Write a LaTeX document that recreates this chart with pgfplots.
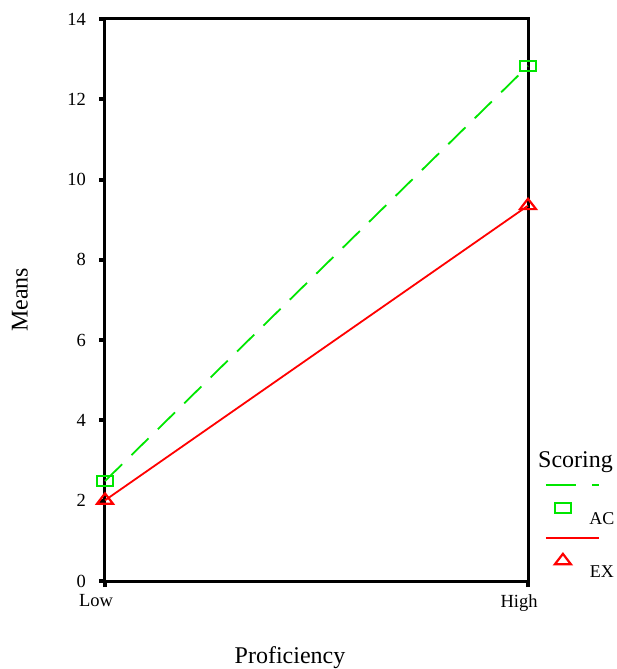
\documentclass[border=0pt]{standalone}
\usepackage{fontspec}
\setmainfont{Liberation Serif}
\usepackage{pgfplots}
\pgfplotsset{compat=1.18}
\definecolor{acgreen}{RGB}{0,230,0}
\definecolor{exred}{RGB}{255,0,0}

\pgfplotsset{
  ac legend/.style={legend image code/.code={
      \path[draw=none, fill=none] (0bp,0bp) rectangle (80bp,52bp);
      \draw[##1, mark=none, dash pattern=on 30bp off 16bp] (0bp,45bp) -- (53bp,45bp);
      \draw[##1, only marks] plot coordinates {(17bp,22bp)};
      \node[text=black, inner sep=0pt, font=\fontsize{18bp}{20bp}\selectfont] at (56bp,11bp) {AC};
  }},
  ex legend/.style={legend image code/.code={
      \path[draw=none, fill=none] (0bp,0bp) rectangle (80bp,52bp);
      \draw[##1, mark=none] (0bp,45bp) -- (53bp,45bp);
      \draw[##1, only marks] plot coordinates {(17bp,22bp)};
      \node[text=black, inner sep=0pt, font=\fontsize{18bp}{20bp}\selectfont] at (56bp,10bp) {EX};
  }},
}

\begin{document}
\begin{tikzpicture}
\begin{axis}[
    scale only axis,
    width=423bp, height=562bp,
    xmin=0, xmax=1, ymin=0, ymax=14,
    xtick={0,1}, xticklabels={Low,High},
    ytick={0,2,...,14},
    tick align=outside, xtick pos=bottom, ytick pos=left,
    major tick length=6bp,
    every tick/.append style={black, line width=4bp},
    major tick style={black, line width=4bp},
    every outer x axis line/.append style={line width=3bp},
    every outer y axis line/.append style={line width=3bp},
    axis line style={line width=3bp},
    /pgf/number format/assume math mode=true,
    yticklabel style={font=\fontsize{18.5bp}{20bp}\selectfont, anchor=east, inner sep=0pt, xshift=-13bp},
    xticklabel style={font=\fontsize{18.5bp}{20bp}\selectfont, anchor=north, inner sep=0pt, xshift=-9bp, yshift=-7bp},
    xlabel={Proficiency}, ylabel={Means},
    label style={font=\fontsize{24bp}{26bp}\selectfont, inner sep=0pt},
    xlabel style={at={(axis description cs:0.4374,-0.1459)}, anchor=base},
    ylabel style={at={(axis description cs:-0.201,0.5)}, anchor=center},
    clip=false,
    legend style={at={(axis description cs:1.0402,0.18327)}, anchor=north west,
        draw=none, fill=none, inner sep=0pt, outer sep=0pt,
        row sep=0pt, column sep=0pt, nodes={inner sep=0pt, outer sep=0pt}},
  ]
  \addplot[acgreen, line width=1.8bp, dash pattern=on 24bp off 13bp,
    mark=square, mark size=5bp, mark options={solid, xscale=1.6, line width=2.2bp},
    ac legend]
    coordinates {(0,2.49) (1,12.83)};
  \addlegendentry{}
  \addplot[exred, line width=1.8bp,
    mark=triangle, mark size=9.2bp, mark options={solid, yscale=0.75, line width=2.2bp},
    ex legend]
    coordinates {(0,2.01) (1,9.35)};
  \addlegendentry{}
  \node[anchor=base west, inner sep=0pt, font=\fontsize{24bp}{26bp}\selectfont]
    at (axis description cs:1.0236,0.2011) {Scoring};
\end{axis}
\pgfresetboundingbox
\path (-105bp,-88bp) rectangle (512bp,581bp);
\end{tikzpicture}
\end{document}
